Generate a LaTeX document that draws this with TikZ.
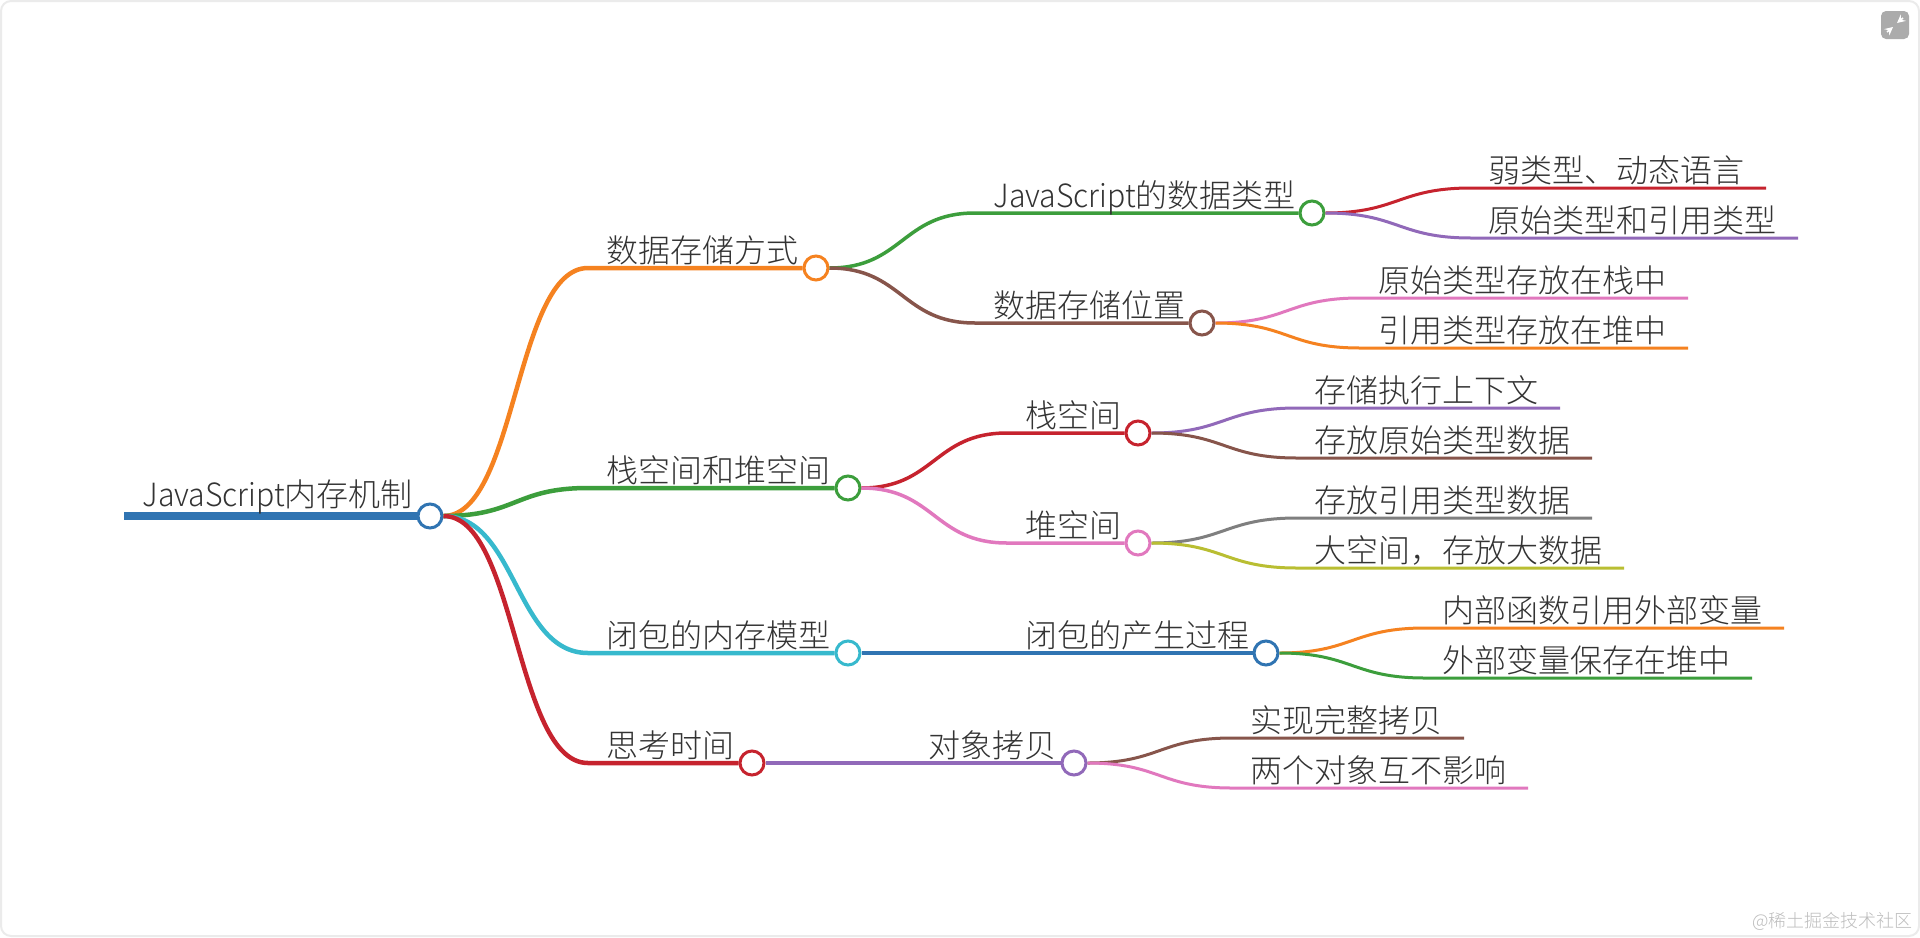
\documentclass[tikz,border=0pt]{standalone}
\usepackage{fontspec}
\newfontfamily\cjk{Noto Sans CJK SC Light}
\newfontfamily\cjklatin[FakeStretch=0.945]{Noto Sans CJK SC Light}
\definecolor{mmblue}{RGB}{48,116,178}
\definecolor{mmorange}{RGB}{245,130,32}
\definecolor{mmgreen}{RGB}{60,158,60}
\definecolor{mmred}{RGB}{198,35,46}
\definecolor{mmpurple}{RGB}{145,105,185}
\definecolor{mmbrown}{RGB}{135,85,75}
\definecolor{mmpink}{RGB}{225,120,190}
\definecolor{mmgray}{RGB}{127,127,127}
\definecolor{mmolive}{RGB}{185,190,50}
\definecolor{mmcyan}{RGB}{55,185,205}
\definecolor{mmtext}{RGB}{51,51,51}
\tikzset{
  mmdot/.style={circle,draw=#1,fill=white,line width=1.5pt,minimum size=12pt,inner sep=0pt},
  mmlabel/.style={anchor=base west,inner sep=0pt,text=mmtext,font=\cjk\fontsize{16}{18}\selectfont},
  mmlinka/.style={draw=#1,line width=2.25pt},
  mmlinkb/.style={draw=#1,line width=1.75pt},
  mmlinkc/.style={draw=#1,line width=1.5pt},
}

\begin{document}
\begin{tikzpicture}[x=0.5pt,y=0.5pt,yscale=-1,xscale=1]
  \useasboundingbox (0,0) rectangle (1920,937);
  % card and button
  \draw[draw=black!8,line width=1pt,fill=white,rounded corners=5pt] (1,1) rectangle (1919,936);
  \fill[black!33,rounded corners=2.5pt] (1881,11) rectangle (1909,39);
  \draw[white,line width=0.8pt,->,>=stealth] (1903,18) -- (1897,23);
  \draw[white,line width=0.8pt,->,>=stealth] (1887,32) -- (1893,27);
  % dots
  \node[mmdot=mmblue] (rootDot) at (430,516) {};
  \node[mmdot=mmorange] (storeDot) at (816,268) {};
  \node[mmdot=mmgreen] (spaceDot) at (848,488) {};
  \node[mmdot=mmcyan] (closureDot) at (848,653) {};
  \node[mmdot=mmred] (thinkDot) at (752,763) {};
  \node[mmdot=mmgreen] (typeDot) at (1312,213) {};
  \node[mmdot=mmbrown] (placeDot) at (1202,323) {};
  \node[mmdot=mmred] (stackDot) at (1138,433) {};
  \node[mmdot=mmpink] (heapDot) at (1138,543) {};
  \node[mmdot=mmblue] (processDot) at (1266,653) {};
  \node[mmdot=mmpurple] (copyDot) at (1074,763) {};
  % where the lines begin and end
  \coordinate (rootStart) at (124,516);
  \coordinate (storeStart) at (588,268);
  \coordinate (spaceStart) at (588,488);
  \coordinate (closureStart) at (588,653);
  \coordinate (thinkStart) at (588,763);
  \coordinate (typeStart) at (975,213);
  \coordinate (placeStart) at (975,323);
  \coordinate (stackStart) at (1007,433);
  \coordinate (heapStart) at (1007,543);
  \coordinate (weakStart) at (1471,188);
  \coordinate (weakEnd) at (1766,188);
  \coordinate (primStart) at (1471,238);
  \coordinate (primEnd) at (1798,238);
  \coordinate (onStackStart) at (1360,298);
  \coordinate (onStackEnd) at (1688,298);
  \coordinate (onHeapStart) at (1360,348);
  \coordinate (onHeapEnd) at (1688,348);
  \coordinate (contextStart) at (1297,408);
  \coordinate (contextEnd) at (1560,408);
  \coordinate (primDataStart) at (1297,458);
  \coordinate (primDataEnd) at (1592,458);
  \coordinate (refDataStart) at (1297,518);
  \coordinate (refDataEnd) at (1592,518);
  \coordinate (bigStart) at (1297,568);
  \coordinate (bigEnd) at (1624,568);
  \coordinate (innerStart) at (1425,628);
  \coordinate (innerEnd) at (1784,628);
  \coordinate (outerStart) at (1425,678);
  \coordinate (outerEnd) at (1752,678);
  \coordinate (fullStart) at (1232,738);
  \coordinate (fullEnd) at (1464,738);
  \coordinate (twoStart) at (1232,788);
  \coordinate (twoEnd) at (1528,788);
  % root
  \draw[draw=mmblue,line width=4pt] (rootStart) -- (rootDot.west);
  % first level
  \draw[mmlinka=mmorange] (rootDot.east) .. controls +(73,0) and +(-73,0) .. (storeStart) -- (storeDot.west);
  \draw[mmlinka=mmgreen] (rootDot.east) .. controls +(73,0) and +(-73,0) .. (spaceStart) -- (spaceDot.west);
  \draw[mmlinka=mmcyan] (rootDot.east) .. controls +(73,0) and +(-73,0) .. (closureStart) -- (closureDot.west);
  \draw[mmlinka=mmred] (rootDot.east) .. controls +(73,0) and +(-73,0) .. (thinkStart) -- (thinkDot.west);
  % second level
  \draw[mmlinkb=mmgreen] (storeDot.east) .. controls +(73,0) and +(-73,0) .. (typeStart) -- (typeDot.west);
  \draw[mmlinkb=mmbrown] (storeDot.east) .. controls +(73,0) and +(-73,0) .. (placeStart) -- (placeDot.west);
  \draw[mmlinkb=mmred] (spaceDot.east) .. controls +(73,0) and +(-73,0) .. (stackStart) -- (stackDot.west);
  \draw[mmlinkb=mmpink] (spaceDot.east) .. controls +(73,0) and +(-73,0) .. (heapStart) -- (heapDot.west);
  \draw[mmlinkb=mmblue] (closureDot.east) -- (processDot.west);
  \draw[mmlinkb=mmpurple] (thinkDot.east) -- (copyDot.west);
  % third level
  \draw[mmlinkc=mmred] (typeDot.east) .. controls +(73,0) and +(-73,0) .. (weakStart) -- (weakEnd);
  \draw[mmlinkc=mmpurple] (typeDot.east) .. controls +(73,0) and +(-73,0) .. (primStart) -- (primEnd);
  \draw[mmlinkc=mmpink] (placeDot.east) .. controls +(73,0) and +(-73,0) .. (onStackStart) -- (onStackEnd);
  \draw[mmlinkc=mmorange] (placeDot.east) .. controls +(73,0) and +(-73,0) .. (onHeapStart) -- (onHeapEnd);
  \draw[mmlinkc=mmpurple] (stackDot.east) .. controls +(73,0) and +(-73,0) .. (contextStart) -- (contextEnd);
  \draw[mmlinkc=mmbrown] (stackDot.east) .. controls +(73,0) and +(-73,0) .. (primDataStart) -- (primDataEnd);
  \draw[mmlinkc=mmgray] (heapDot.east) .. controls +(73,0) and +(-73,0) .. (refDataStart) -- (refDataEnd);
  \draw[mmlinkc=mmolive] (heapDot.east) .. controls +(73,0) and +(-73,0) .. (bigStart) -- (bigEnd);
  \draw[mmlinkc=mmorange] (processDot.east) .. controls +(73,0) and +(-73,0) .. (innerStart) -- (innerEnd);
  \draw[mmlinkc=mmgreen] (processDot.east) .. controls +(73,0) and +(-73,0) .. (outerStart) -- (outerEnd);
  \draw[mmlinkc=mmbrown] (copyDot.east) .. controls +(73,0) and +(-73,0) .. (fullStart) -- (fullEnd);
  \draw[mmlinkc=mmpink] (copyDot.east) .. controls +(73,0) and +(-73,0) .. (twoStart) -- (twoEnd);
  % labels
  \node[mmlabel] (rootLabel) at (142,506) {{\cjklatin JavaScript}内存机制};
  \node[mmlabel] (storeLabel) at (606,262) {数据存储方式};
  \node[mmlabel] (spaceLabel) at (606,482) {栈空间和堆空间};
  \node[mmlabel] (closureLabel) at (606,647) {闭包的内存模型};
  \node[mmlabel] (thinkLabel) at (606,757) {思考时间};
  \node[mmlabel] (typeLabel) at (993,207) {{\cjklatin JavaScript}的数据类型};
  \node[mmlabel] (placeLabel) at (993,317) {数据存储位置};
  \node[mmlabel] (stackLabel) at (1025,427) {栈空间};
  \node[mmlabel] (heapLabel) at (1025,537) {堆空间};
  \node[mmlabel] (processLabel) at (1025,647) {闭包的产生过程};
  \node[mmlabel] (copyLabel) at (928,757) {对象拷贝};
  \node[mmlabel] (weakLabel) at (1488,182) {弱类型、动态语言};
  \node[mmlabel] (primLabel) at (1488,232) {原始类型和引用类型};
  \node[mmlabel] (onStackLabel) at (1378,292) {原始类型存放在栈中};
  \node[mmlabel] (onHeapLabel) at (1378,342) {引用类型存放在堆中};
  \node[mmlabel] (contextLabel) at (1314,402) {存储执行上下文};
  \node[mmlabel] (primDataLabel) at (1314,452) {存放原始类型数据};
  \node[mmlabel] (refDataLabel) at (1314,512) {存放引用类型数据};
  \node[mmlabel] (bigLabel) at (1314,562) {大空间，存放大数据};
  \node[mmlabel] (innerLabel) at (1442,622) {内部函数引用外部变量};
  \node[mmlabel] (outerLabel) at (1442,672) {外部变量保存在堆中};
  \node[mmlabel] (fullLabel) at (1250,732) {实现完整拷贝};
  \node[mmlabel] (twoLabel) at (1250,782) {两个对象互不影响};
  \node[anchor=base east,inner sep=0pt,text=black!26,font=\cjk\fontsize{9}{11}\selectfont] (markLabel) at (1913,927) {@稀土掘金技术社区};
\end{tikzpicture}
\end{document}
